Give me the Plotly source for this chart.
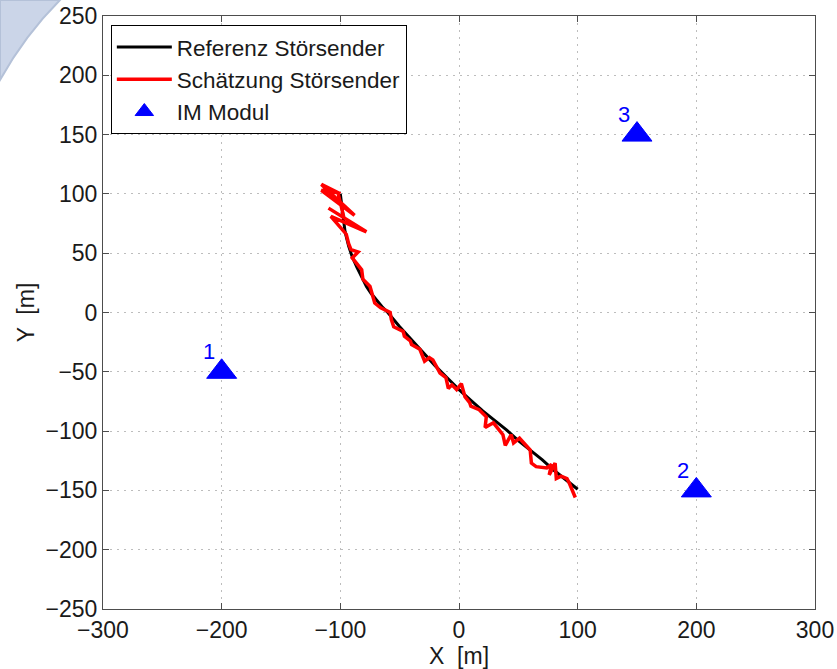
import plotly.graph_objects as go

# Reference trajectory of the jammer (Störsender)
ref_x = [-100, -98, -96, -93, -90, -86, -82, -78, -74, -70, -65, -60, -55, -50, -40,
         -30, -20, -10, 0, 10, 20, 30, 40, 50, 60, 70, 80, 90, 100]
ref_y = [100, 84, 68, 56, 47, 38, 30, 22, 16, 11, 5, 0, -6, -12, -23,
         -34, -45, -55, -65, -74, -83, -91, -99, -108, -116, -124, -133, -141, -149]

# Estimated jammer position
est_x = [-100, -116, -88, -116, -102, -97, -110, -78, -108, -95, -93, -91, -85, -90,
         -82, -81, -75, -71, -66, -58, -57, -55, -47, -46, -41, -40, -33, -29, -25,
         -22, -16, -11, -9, -6, -2, 2, 5, 9, 10, 17, 23, 22, 29, 37, 39, 44, 46, 51,
         60, 61, 65, 74, 78, 76, 81, 82, 86, 91, 93, 95, 98]
est_y = [100, 108, 82, 103, 101, 80, 88, 68, 81, 66, 58, 53, 51, 46,
         36, 28, 22, 8, 4, 0, -6, -12, -16, -20, -24, -27, -31, -41, -38,
         -40, -51, -55, -64, -61, -65, -60, -71, -76, -79, -82, -88, -97, -93, -103, -112, -103, -110, -106,
         -116, -127, -130, -131, -128, -137, -127, -140, -138, -140, -144, -149, -156]

# IM module positions and their ids
mod_x = [-200, 200, 150]
mod_y = [-50, -150, 150]
mod_id = ["1", "2", "3"]

FONT = "Arial, Liberation Sans, sans-serif"

fig = go.Figure()
fig.add_trace(go.Scatter(x=ref_x, y=ref_y, mode="lines", name="Referenz Störsender",
                         line=dict(color="black", width=3)))
fig.add_trace(go.Scatter(x=est_x, y=est_y, mode="lines", name="Schätzung Störsender",
                         line=dict(color="#ff0000", width=3.5)))
fig.add_trace(go.Scatter(x=mod_x, y=mod_y, mode="markers", name="IM Modul",
                         marker=dict(symbol="triangle-up", size=26, color="#0000ff",
                                     line=dict(color="#0000ff", width=1))))

for mx, my, mid in zip(mod_x, mod_y, mod_id):
    fig.add_annotation(x=mx, y=my, text=mid, showarrow=False, xshift=-13, yshift=20,
                       font=dict(family=FONT, size=22, color="#0000ff"))

# decorative corner swoosh
def px2paper(px, py):
    return (px - 103) / 712, (609 - py) / 593

p0 = px2paper(0, 0)
p1 = px2paper(60, 0)
c = px2paper(25, 35)
p2 = px2paper(0, 80)
fig.add_shape(type="path", xref="paper", yref="paper", layer="below",
              path=f"M{p0[0]},{p0[1]} L{p1[0]},{p1[1]} Q{c[0]},{c[1]} {p2[0]},{p2[1]} Z",
              fillcolor="rgb(203,213,232)", line=dict(color="rgb(180,193,216)", width=2))

axis_common = dict(
    showgrid=True, gridcolor="#bdbdbd", griddash="2px,5px", gridwidth=1,
    zeroline=False, showline=True, linecolor="#4d4d4d", linewidth=1, mirror="ticks",
    ticks="inside", ticklen=6, tickcolor="#4d4d4d",
    tickfont=dict(family=FONT, size=23, color="#1a1a1a"),
)

fig.update_xaxes(range=[-300, 300], dtick=100, tick0=0,
                 title=dict(text="X  [m]", font=dict(family=FONT, size=23, color="#1a1a1a"), standoff=4),
                 **axis_common)
fig.update_yaxes(range=[-250, 250], dtick=50, tick0=0,
                 title=dict(text="Y  [m]", font=dict(family=FONT, size=23, color="#1a1a1a"), standoff=4),
                 **axis_common)

fig.update_layout(
    width=837, height=669,
    margin=dict(l=103, r=22, t=16, b=60, autoexpand=False),
    paper_bgcolor="white", plot_bgcolor="white",
    font=dict(family=FONT, color="#1a1a1a"),
    legend=dict(x=0.011, y=0.985, xanchor="left", yanchor="top",
                bgcolor="white", bordercolor="black", borderwidth=1,
                font=dict(family=FONT, size=22.5, color="#1a1a1a"),
                itemwidth=55, tracegroupgap=0),
    showlegend=True,
)

fig.write_html("out.html")
